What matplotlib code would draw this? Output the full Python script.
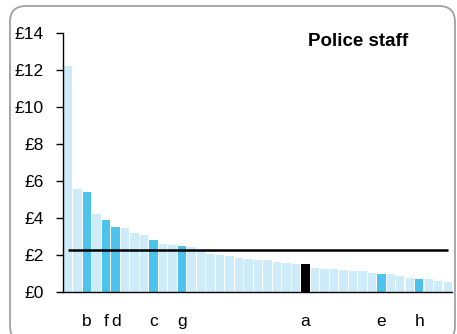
import matplotlib.pyplot as plt
from matplotlib.patches import FancyBboxPatch

plt.rcParams['font.family'] = ['Liberation Sans', 'DejaVu Sans']

# cost per head, police staff, sorted high to low
values = [12.22, 5.57, 5.41, 4.22, 3.89, 3.51, 3.46, 3.19, 3.08, 2.81,
          2.59, 2.54, 2.49, 2.43, 2.24, 2.05, 2.00, 1.95, 1.84, 1.78,
          1.73, 1.73, 1.62, 1.57, 1.51, 1.51, 1.30, 1.24, 1.24, 1.19,
          1.14, 1.14, 1.03, 0.97, 0.97, 0.86, 0.76, 0.70, 0.70, 0.59,
          0.54]
# highlighted forces: bar index -> label
highlight = {2: 'b', 4: 'f', 5: 'd', 9: 'c', 12: 'g', 25: 'a', 33: 'e', 37: 'h'}
black_bar = 25
average = 2.25
yticks = [0, 2, 4, 6, 8, 10, 12, 14]

light = '#cdebf8'
dark = '#4cc3ec'

colors = []
for i in range(len(values)):
    if i == black_bar:
        colors.append('black')
    elif i in highlight:
        colors.append(dark)
    else:
        colors.append(light)

fig = plt.figure(figsize=(4.57, 3.34), dpi=100)
ax = fig.add_axes([63 / 457, 1 - 292 / 334, 389 / 457, 259 / 334])

x = list(range(len(values)))
ax.bar(x, values, width=0.87, color=colors, zorder=2)
ax.hlines(average, 0, len(values) - 1, color='black', linewidth=1.8, zorder=3)

ax.set_xlim(-0.54, len(values) - 1 + 0.44)
ax.set_ylim(0, 14)
ax.set_yticks(yticks)
ax.set_yticklabels(['£%d' % v for v in yticks], fontsize=12.5)
ax.tick_params(axis='y', length=5, width=1, pad=9)

ax.set_xticks(sorted(highlight))
ax.set_xticklabels([highlight[k] for k in sorted(highlight)], fontsize=12.5)
ax.tick_params(axis='x', length=0, pad=16)

for s in ['top', 'right']:
    ax.spines[s].set_visible(False)
ax.spines['left'].set_linewidth(1)
ax.spines['bottom'].set_linewidth(1)

ax.text(0.887, 0.969, 'Police staff', transform=ax.transAxes, ha='right', va='center',
        fontsize=13.5, fontweight='bold')

# rounded frame, in pixels
border = FancyBboxPatch((10, -8), 445, 334 - 6 + 8,
                        boxstyle='round,pad=0,rounding_size=16',
                        transform=None, facecolor='none',
                        edgecolor='#a0a0a0', linewidth=1.3, zorder=0)
fig.patches.append(border)

fig.savefig('out.png', dpi=100)
